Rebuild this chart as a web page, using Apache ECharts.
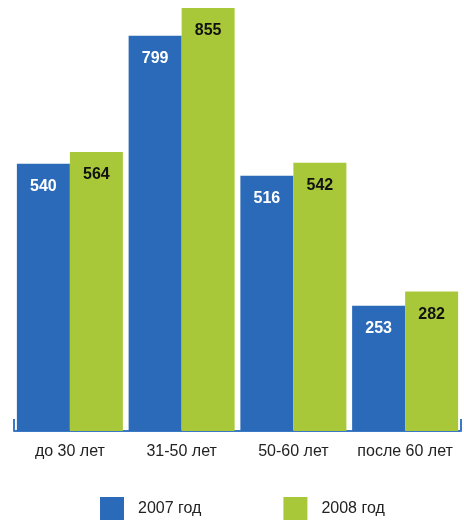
<!DOCTYPE html>
<html>
<head>
<meta charset="utf-8">
<script src="https://cdn.jsdelivr.net/npm/echarts@6/dist/echarts.min.js"></script>
<style>html,body{margin:0;padding:0;background:#fff}#c{width:464px;height:520px}</style>
</head>
<body>
<div id="c"></div>
<script>
var categories = ['до 30 лет', '31-50 лет', '50-60 лет', 'после 60 лет'];
var series2007 = [540, 799, 516, 253];
var series2008 = [564, 855, 542, 282];
var seriesNames = ['2007 год', '2008 год'];

var chart = echarts.init(document.getElementById('c'), null, {renderer: 'canvas'});
var font = 'Liberation Sans, Arial, sans-serif';
chart.setOption({
  animation: false,
  backgroundColor: '#fff',
  grid: {left: 14, right: 3, top: 0, bottom: 89, containLabel: false},
  legend: {
    left: 100, top: 497, padding: 0,
    itemWidth: 24, itemHeight: 23, itemGap: 82,
    icon: 'rect',
    textStyle: {fontFamily: font, fontSize: 16, color: '#222', padding: [0, 0, 0, 9]},
    data: seriesNames
  },
  xAxis: {
    type: 'category',
    data: categories,
    axisLine: {show: true, lineStyle: {color: '#3b79c6', width: 2}},
    axisTick: {show: true, inside: true, length: 12, interval: function (i) { return i === 0; }, lineStyle: {color: '#3b79c6', width: 2}},
    axisLabel: {interval: 0, fontFamily: font, fontSize: 16, color: '#222', margin: 13}
  },
  yAxis: {type: 'value', min: 0, max: 871, show: false, splitLine: {show: false}},
  series: [
    {
      name: seriesNames[0], type: 'bar', data: series2007,
      barWidth: 53, barGap: '0%',
      itemStyle: {color: '#2b6ab8'},
      label: {show: true, position: 'insideTop', distance: 15, fontFamily: font, fontSize: 16, fontWeight: 'bold', color: '#fff'}
    },
    {
      name: seriesNames[1], type: 'bar', data: series2008,
      barWidth: 53, barGap: '0%',
      itemStyle: {color: '#a8c83a'},
      label: {show: true, position: 'insideTop', distance: 15, fontFamily: font, fontSize: 16, fontWeight: 'bold', color: '#111'}
    }
  ]
});
</script>
</body>
</html>
